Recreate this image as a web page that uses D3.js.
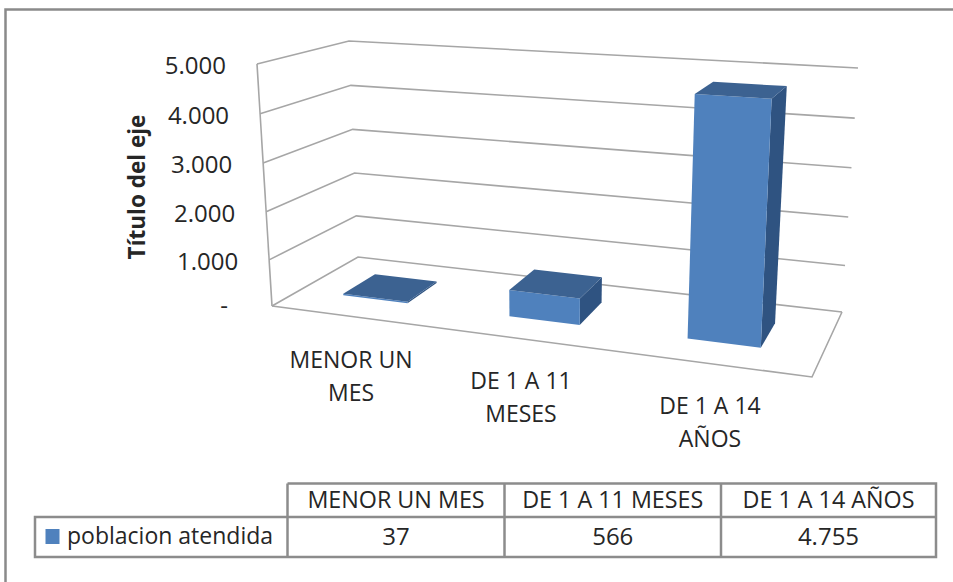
<!DOCTYPE html>
<html>
<head>
<meta charset="utf-8">
<script src="https://cdn.jsdelivr.net/npm/d3@7"></script>
<style>
  html, body { margin: 0; padding: 0; background: #fff; }
  svg { display: block; }
  text { font-family: "Open Sans", sans-serif; fill: #262626; }
</style>
</head>
<body>
<script>
// chart data
const categories = ["MENOR UN MES", "DE 1 A 11 MESES", "DE 1 A 14 AÑOS"];
const categoryLines = [["MENOR UN", "MES"], ["DE 1 A 11", "MESES"], ["DE 1 A 14", "AÑOS"]];
const seriesName = "poblacion atendida";
const seriesValues = [37, 566, 4755];
const valueTicks = [0, 1000, 2000, 3000, 4000, 5000];
const tickLabels = ["-", "1.000", "2.000", "3.000", "4.000", "5.000"];
const tableValues = ["37", "566", "4.755"];

const width = 953;
const height = 582;

// corners of the 3d box as they land on the screen
const box = {
  frontLeftBottom: [272, 306], frontLeftTop: [257, 64],
  backLeftBottom: [358, 257], backLeftTop: [349, 41],
  backRightBottom: [842, 312], backRightTop: [858, 68],
  frontRightBottom: [812, 377], frontRightTop: [826, 100]
};

// slight power scales stand in for the perspective
const yScale = d3.scalePow().exponent(1.03).domain([0, 5000]).range([0, 1]);
const uScale = d3.scalePow().exponent(1.08).domain([0, 1]).range([0, 1]);
const band = d3.scaleBand().domain(categories).range([0, 0.99]).paddingInner(0.6).paddingOuter(0.3);
const barDepth = [0.33, 0.72];

function lerp(a, b, t) {
  return [a[0] + (b[0] - a[0]) * t, a[1] + (b[1] - a[1]) * t];
}

/**
 * projects (across, depth, height), each 0..1, to the screen
 */
function project(u, v, t) {
  const left = lerp(lerp(box.frontLeftBottom, box.backLeftBottom, v), lerp(box.frontLeftTop, box.backLeftTop, v), t);
  const right = lerp(lerp(box.frontRightBottom, box.backRightBottom, v), lerp(box.frontRightTop, box.backRightTop, v), t);
  return lerp(left, right, u);
}

function poly(points) {
  return "M" + points.map((p) => p.join(",")).join("L") + "Z";
}

const svg = d3.select("body").append("svg")
  .attr("width", width)
  .attr("height", height);

// the frame only shows on the top and left, the rest is cropped away
svg.append("path")
  .attr("d", `M5.5,${height}V9.5H${width}`)
  .attr("fill", "none")
  .attr("stroke", "#8a8a8a")
  .attr("stroke-width", 2.5);

// gridlines on the left and back walls
const grid = svg.append("g").attr("fill", "none").attr("stroke", "#a6a6a6").attr("stroke-width", 1.6);
valueTicks.forEach((d) => {
  const t = yScale(d);
  grid.append("path")
    .attr("d", "M" + [project(0, 0, t), project(0, 1, t), project(1, 1, t)].map((p) => p.join(",")).join("L"));
});
grid.append("path").attr("d", "M" + [project(0, 0, 0), project(0, 0, 1)].map((p) => p.join(",")).join("L"));
grid.append("path")
  .attr("d", "M" + [project(0, 0, 0), project(1, 0, 0), project(1, 1, 0)].map((p) => p.join(",")).join("L"));

// bars
const bars = svg.append("g").selectAll("g")
  .data(categories)
  .join("g");

function barCorners(d, i) {
  const u0 = uScale(band(d));
  const u1 = uScale(band(d) + band.bandwidth());
  const t = yScale(seriesValues[i]);
  return {u0, u1, t, v0: barDepth[0], v1: barDepth[1]};
}

bars.append("path")
  .attr("fill", "#2f5381")
  .attr("d", (d, i) => {
    const c = barCorners(d, i);
    return poly([project(c.u1, c.v0, 0), project(c.u1, c.v1, 0), project(c.u1, c.v1, c.t), project(c.u1, c.v0, c.t)]);
  });
bars.append("path")
  .attr("fill", "#4f81bd")
  .attr("d", (d, i) => {
    const c = barCorners(d, i);
    return poly([project(c.u0, c.v0, 0), project(c.u1, c.v0, 0), project(c.u1, c.v0, c.t), project(c.u0, c.v0, c.t)]);
  });
bars.append("path")
  .attr("fill", "#3c6291")
  .attr("d", (d, i) => {
    const c = barCorners(d, i);
    return poly([project(c.u0, c.v0, c.t), project(c.u1, c.v0, c.t), project(c.u1, c.v1, c.t), project(c.u0, c.v1, c.t)]);
  });

// value axis labels
svg.append("g").selectAll("text")
  .data(valueTicks)
  .join("text")
  .attr("x", (d) => project(0, 0, yScale(d))[0] - (d === 0 ? 44 : 31))
  .attr("y", (d) => project(0, 0, yScale(d))[1] + (d === 0 ? 8 : 10))
  .attr("text-anchor", "end")
  .attr("font-size", 24)
  .text((d, i) => tickLabels[i]);

svg.append("text")
  .attr("transform", "translate(145,187) rotate(-90)")
  .attr("text-anchor", "middle")
  .attr("font-size", 22.5)
  .attr("font-weight", "bold")
  .text("Título del eje");

// category labels
const catX = [351, 521, 710];
const catY = [368, 389, 414];
categoryLines.forEach((lines, i) => {
  lines.forEach((line, j) => {
    svg.append("text")
      .attr("x", catX[i])
      .attr("y", catY[i] + j * 32.5)
      .attr("text-anchor", "middle")
      .attr("font-size", 23)
      .text(line);
  });
});

// data table below the plot
const colX = [35, 287.5, 504.5, 721, 936];
const rowY = [483.5, 517, 557];
const table = svg.append("g").attr("fill", "none").attr("stroke", "#8c8c8c").attr("stroke-width", 2.5);
table.append("path").attr("d", `M${colX[1]},${rowY[0]}H${colX[4]}V${rowY[2]}H${colX[0]}V${rowY[1]}H${colX[4]}`);
colX.slice(1, 4).forEach((x) => {
  table.append("path").attr("d", `M${x},${rowY[0]}V${rowY[2]}`);
});

categories.forEach((d, i) => {
  svg.append("text")
    .attr("x", (colX[i + 1] + colX[i + 2]) / 2)
    .attr("y", 508)
    .attr("text-anchor", "middle")
    .attr("font-size", 23.3)
    .text(d);
  svg.append("text")
    .attr("x", (colX[i + 1] + colX[i + 2]) / 2)
    .attr("y", 545)
    .attr("text-anchor", "middle")
    .attr("font-size", 24)
    .text(tableValues[i]);
});

svg.append("rect")
  .attr("x", 45.5).attr("y", 529)
  .attr("width", 14).attr("height", 15)
  .attr("fill", "#4f81bd");
svg.append("text")
  .attr("x", 67)
  .attr("y", 544)
  .attr("font-size", 23)
  .text(seriesName);
</script>
</body>
</html>
